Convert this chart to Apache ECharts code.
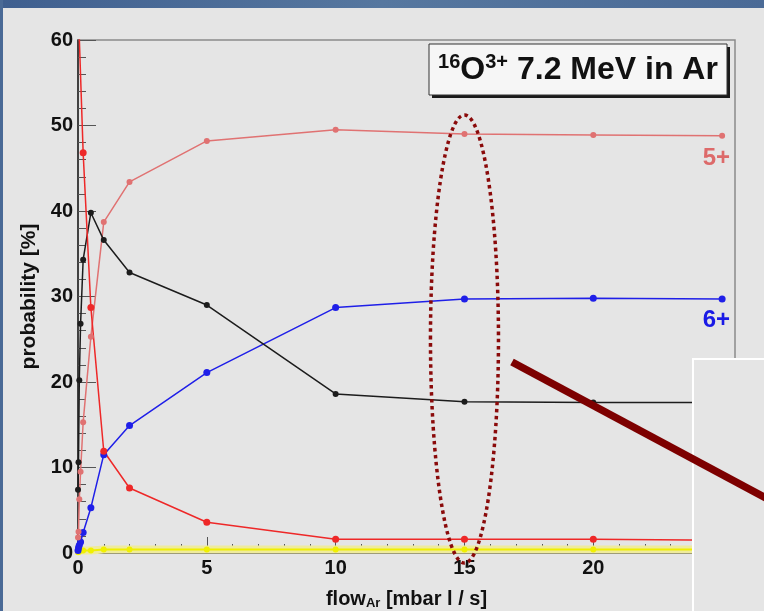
<!DOCTYPE html>
<html>
<head>
<meta charset="utf-8">
<script src="https://cdn.jsdelivr.net/npm/echarts@6/dist/echarts.min.js"></script>
<style>
  html, body { margin: 0; padding: 0; background: #e5e5e5; }
  #chart { width: 764px; height: 611px; }
</style>
</head>
<body>
<div id="chart"></div>
<script>
// Charge-state fractions of 16O3+ at 7.2 MeV after an Ar gas stripper
const flowAr   = [0, 0.02, 0.05, 0.1, 0.2, 0.5, 1, 2, 5, 10, 15, 20, 25];
const charge3  = [100, 63, null, null, 46.8, 28.7, 11.9, 7.6, 3.6, 1.6, 1.6, 1.6, 1.5];
const charge4  = [7.4, 10.6, 20.2, 26.8, 34.3, 39.8, 36.6, 32.8, 29.0, 18.6, 17.7, 17.6, 17.6];
const charge5  = [1.8, 2.5, 6.3, 9.5, 15.3, 25.3, 38.7, 43.4, 48.2, 49.5, 49.0, 48.9, 48.8];
const charge6  = [0.3, 0.6, 0.9, 1.3, 2.4, 5.3, 11.5, 14.9, 21.1, 28.7, 29.7, 29.8, 29.7];
const charge7  = [0.1, 0.2, 0.2, 0.3, 0.3, 0.3, 0.4, 0.4, 0.4, 0.4, 0.4, 0.4, 0.4];
const yTicks   = [0, 10, 20, 30, 40, 50, 60];
const xTicks   = [0, 5, 10, 15, 20, 25];

const FONT = '"Liberation Sans", Arial, sans-serif';
const pairs = ys => flowAr.map((x, i) => [x, ys[i]]);

const chart = echarts.init(document.getElementById('chart'), null, { renderer: 'canvas' });

function lineSeries(name, ys, color, size, width) {
  return {
    name, type: 'line', data: pairs(ys), connectNulls: true, clip: true,
    symbol: 'circle', symbolSize: size, showSymbol: true,
    itemStyle: { color }, lineStyle: { color, width: width || 1.5 },
    emphasis: { disabled: true }, animation: false, z: 3
  };
}

const option = {
  backgroundColor: '#e5e5e5',
  animation: false,
  grid: {
    left: 78, right: 29, top: 40, bottom: 58,
    outerBoundsMode: 'none', containLabel: false,
    show: true, borderColor: '#8a8a8a', borderWidth: 1.5, backgroundColor: 'transparent'
  },
  xAxis: {
    type: 'value', min: xTicks[0], max: 25.5, interval: 5,
    name: '{a|flow}{s|Ar}{a| [mbar l / s]}', nameLocation: 'middle', nameGap: 35,
    nameTextStyle: {
      rich: {
        a: { fontFamily: FONT, fontWeight: 'bold', fontSize: 20, color: '#111' },
        s: { fontFamily: FONT, fontWeight: 'bold', fontSize: 13, color: '#111', verticalAlign: 'bottom', padding: [9, 0, 0, 0] }
      }
    },
    axisLine: { show: true, onZero: false, lineStyle: { color: '#333', width: 1.5 } },
    axisTick: { show: true, inside: true, length: 16, lineStyle: { color: '#555', width: 1 } },
    minorTick: { show: true, splitNumber: 5, length: 9, lineStyle: { color: '#555', width: 1 } },
    axisLabel: { fontFamily: FONT, fontWeight: 'bold', fontSize: 20, color: '#111', margin: 5,
      formatter: v => xTicks.includes(v) ? String(v) : '' },
    splitLine: { show: false }
  },
  yAxis: {
    type: 'value', min: yTicks[0], max: yTicks[yTicks.length - 1], interval: 10,
    name: 'probability [%]', nameLocation: 'middle', nameGap: 35, nameRotate: 90,
    nameTextStyle: { fontFamily: FONT, fontWeight: 'bold', fontSize: 21, color: '#111' },
    axisLine: { show: true, onZero: false, lineStyle: { color: '#222', width: 1.5 } },
    axisTick: { show: true, inside: true, length: 18, lineStyle: { color: '#555', width: 1 } },
    minorTick: { show: true, splitNumber: 5, length: 8, lineStyle: { color: '#555', width: 1 } },
    axisLabel: { fontFamily: FONT, fontWeight: 'bold', fontSize: 20, color: '#111', margin: 5 },
    splitLine: { show: false }
  },
  series: [
    // pale band under the 7+ curve
    { type: 'line', data: pairs(charge7), symbol: 'none', clip: true, z: 1,
      lineStyle: { color: '#efeb9c', width: 8 }, emphasis: { disabled: true }, animation: false },
    lineSeries('7+', charge7, '#f0f000', 6, 2),
    lineSeries('6+', charge6, '#1f1fe8', 7),
    lineSeries('5+', charge5, '#e07272', 6),
    lineSeries('4+', charge4, '#1c1c1c', 6),
    lineSeries('3+', charge3, '#ee2828', 7)
  ]
};
chart.setOption(option);

// annotations laid over the plot
const cx = chart.convertToPixel({ xAxisIndex: 0 }, 15);
chart.setOption({
  graphic: [
    // slide frame
    { type: 'rect', shape: { x: 0, y: 0, width: 764, height: 8 }, z: 100,
      style: { fill: new echarts.graphic.LinearGradient(0, 0, 1, 0, [
        { offset: 0, color: '#3f5f8f' }, { offset: 0.5, color: '#56779f' }, { offset: 1, color: '#4a6a96' }]) } },
    { type: 'rect', shape: { x: 0, y: 0, width: 3, height: 611 }, z: 100, style: { fill: '#4a6a96' } },
    // title box with drop shadow
    { type: 'rect', shape: { x: 432, y: 47, width: 298, height: 51 }, z: 49,
      style: { fill: '#1a1a1a' } },
    { type: 'rect', shape: { x: 429, y: 44, width: 298, height: 51 }, z: 50,
      style: { fill: '#f6f6f6', stroke: '#333', lineWidth: 1 } },
    { type: 'text', x: 578, y: 70, z: 51,
      style: {
        text: '{sup|16}{b|O}{sup|3+}{b| 7.2 MeV in Ar}',
        align: 'center', verticalAlign: 'middle',
        rich: {
          b: { fontFamily: FONT, fontWeight: 'bold', fontSize: 32, fill: '#111', lineHeight: 36 },
          sup: { fontFamily: FONT, fontWeight: 'bold', fontSize: 20, fill: '#111', verticalAlign: 'top', lineHeight: 36, padding: [0, 0, 12, 0] }
        }
      } },
    // charge-state labels
    { type: 'text', x: 730, y: 158, z: 51,
      style: { text: '5+', fill: '#dd6a6a', font: 'bold 24px ' + FONT, align: 'right', verticalAlign: 'middle' } },
    { type: 'text', x: 730, y: 320, z: 51,
      style: { text: '6+', fill: '#1a1ae6', font: 'bold 24px ' + FONT, align: 'right', verticalAlign: 'middle' } },
    // dotted ellipse around the 15 mbar l/s point
    { type: 'ellipse', shape: { cx: cx, cy: 339, rx: 34, ry: 224 }, z: 60,
      style: { fill: 'none', stroke: '#8a0a0a', lineWidth: 3.5, lineDash: [3.5, 3.5] } },
    // inset panel and pointer
    { type: 'rect', shape: { x: 693, y: 359, width: 80, height: 260 }, z: 70,
      style: { fill: '#e5e5e5', stroke: '#ffffff', lineWidth: 2 } },
    { type: 'line', shape: { x1: 512, y1: 362, x2: 790, y2: 511 }, z: 80,
      style: { stroke: '#7d0000', lineWidth: 7.5 } }
  ]
});
</script>
</body>
</html>
